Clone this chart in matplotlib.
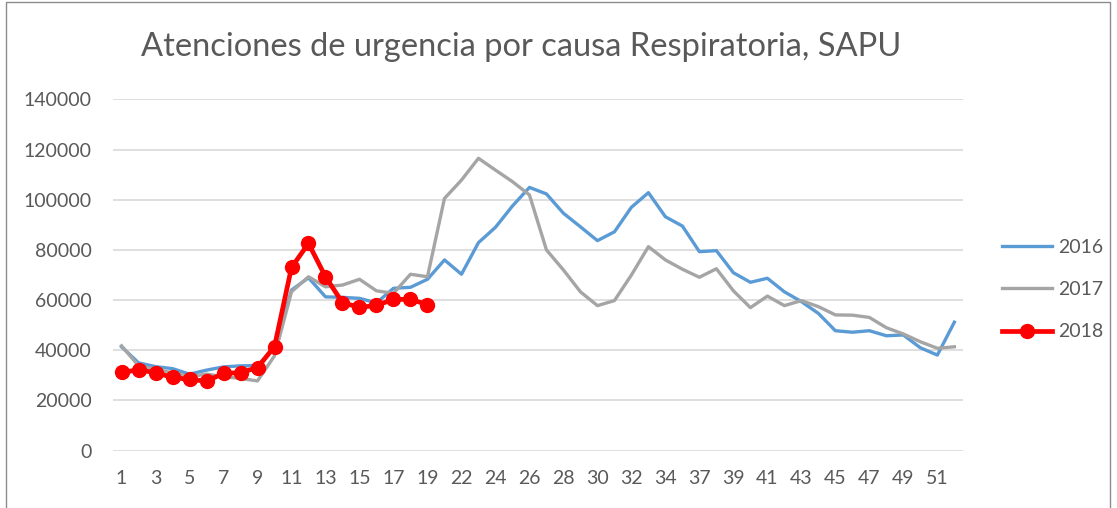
import matplotlib
matplotlib.use("Agg")
import matplotlib.pyplot as plt
from matplotlib.patches import Rectangle

# semanas epidemiologicas (las que tiene la serie)
weeks = list(range(1, 20)) + [20] + list(range(22, 35)) + [35] + list(range(37, 53))

atenciones_2016 = [41400, 35000, 33500, 32700, 30500, 32100, 33400, 33800, 33900, 41000,
                   64000, 68900, 61300, 61100, 60700, 58900, 64700, 65100, 68300, 76000,
                   70300, 82900, 89000, 97500, 104900, 102300, 94600, 89200, 83700, 87200,
                   97000, 102800, 93200, 89500, 79300, 79700, 70900, 67100, 68700, 63300,
                   59400, 54700, 47800, 47200, 47800, 45800, 46100, 41000, 38100, 51200]
atenciones_2017 = [41800, 33800, 32500, 31000, 29500, 30500, 29500, 28800, 27800, 37800,
                   63300, 69300, 65300, 66000, 68300, 63700, 62700, 70300, 69300, 100500,
                   107800, 116500, 111800, 107200, 101900, 80000, 72000, 63300, 57800, 59800,
                   70000, 81300, 76000, 72300, 69100, 72500, 63700, 57000, 61600, 57800,
                   59800, 57400, 54100, 54000, 53100, 49000, 46500, 43400, 40800, 41400]
atenciones_2018 = [31200, 32200, 31100, 29200, 28400, 27700, 30800, 31100, 33100, 41500,
                   73000, 82600, 69300, 59000, 57100, 57900, 60300, 60300, 58200]

BLUE = "#5B9BD5"
GRAY = "#A5A5A5"
RED = "#FF0000"
TXT = "#595959"

plt.rcParams['font.family'] = ['Lato', 'DejaVu Sans']

fig = plt.figure(figsize=(11.17, 5.08), dpi=100)
ax = fig.add_axes([0.1012, 0.1128, 0.7608, 0.6917])

x_all = list(range(len(weeks)))
ax.plot(x_all, atenciones_2016, color=BLUE, lw=2.4, label='2016', solid_joinstyle='round')
ax.plot(x_all, atenciones_2017, color=GRAY, lw=2.4, label='2017', solid_joinstyle='round')
ax.plot(x_all[:len(atenciones_2018)], atenciones_2018, color=RED, lw=3.4, marker='o',
        markersize=10, label='2018', solid_joinstyle='round')

ax.set_xlim(-0.5, len(weeks) - 0.5)
ax.set_ylim(0, 140000)
ax.set_yticks(range(0, 140001, 20000))
ax.set_xticks(x_all[::2])
ax.set_xticklabels([str(w) for w in weeks[::2]])
ax.grid(axis='y', color='#D9D9D9', lw=1.2)
ax.set_axisbelow(True)
for s in ax.spines.values():
    s.set_visible(False)
ax.tick_params(length=0, labelsize=14, colors=TXT)
ax.tick_params(axis='y', pad=15.5)
ax.tick_params(axis='x', pad=14)

fig.text(0.467, 0.907, 'Atenciones de urgencia por causa Respiratoria, SAPU',
         ha='center', va='center', fontsize=23.5, color=TXT)

fig.legend(loc='center left', bbox_to_anchor=(0.881, 0.43), frameon=False,
           fontsize=14, handlelength=2.6, handletextpad=0.3, labelspacing=1.3,
           labelcolor=TXT)

fig.patches.append(Rectangle((0.005, -0.01), 0.989, 1.007, transform=fig.transFigure,
                             fill=False, edgecolor='#8C8C8C', lw=1))

fig.savefig('out.png', dpi=100)
